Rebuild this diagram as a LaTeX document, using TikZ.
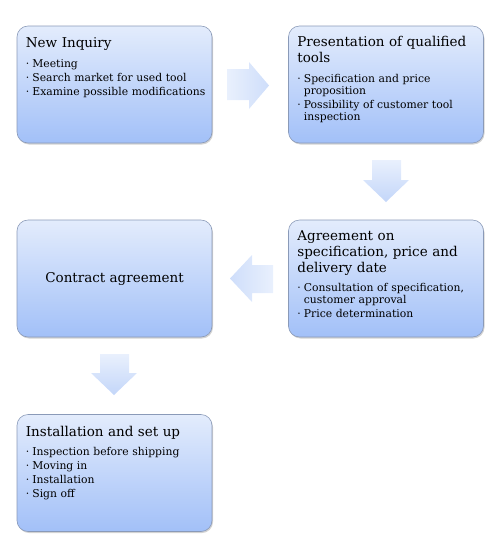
\documentclass[tikz,border=0pt]{standalone}
\usepackage{fontspec}
\setmainfont{DejaVu Serif}
\usetikzlibrary{shadows,shapes.arrows}
\definecolor{boxtop}{HTML}{E3ECFC}
\definecolor{boxbot}{HTML}{A2C0F8}
\definecolor{boxline}{HTML}{8A9AB8}
\definecolor{arrtop}{HTML}{E9F0FD}
\definecolor{arrbot}{HTML}{C3D6F9}
\tikzset{
  stepbox/.style={draw=boxline, line width=0.6pt, rounded corners=11pt,
    top color=boxtop, bottom color=boxbot,
    drop shadow={shadow xshift=1pt, shadow yshift=-1.5pt, opacity=0.35},
    minimum width=195pt, minimum height=117pt, inner sep=0pt},
  boxtitle/.style={anchor=north west, inner sep=0pt, align=left,
    font=\fontsize{13.5}{16}\selectfont, text width=182pt},
  boxlist/.style={anchor=north west, inner sep=0pt,
    font=\fontsize{10.8}{12}\selectfont, text width=182pt},
}
\newcommand{\itm}[1]{\par\noindent\makebox[6.5pt][l]{·}#1}
\newcommand{\itmc}[1]{\par\vspace{-2pt}\noindent\hspace*{6.5pt}#1}
\begin{document}
\begin{tikzpicture}[x=1pt,y=-1pt]
\useasboundingbox (0,0) rectangle (494,558);
% boxes
\node[stepbox] (b1) at (114.5,84.5) {};
\node[stepbox] (b2) at (386,84.5) {};
\node[stepbox] (b3) at (114.5,278.5) {};
\node[stepbox] (b4) at (386,278.5) {};
\node[stepbox] (b5) at (114.5,473) {};
% box 1
\node[boxtitle] (t1) at ([xshift=9pt,yshift=-10.5pt]b1.north west) {New Inquiry\strut};
\node[boxlist] (l1) at ([yshift=-0.5pt]t1.south west) {\setlength{\parskip}{2pt}\raggedright
  \itm{Meeting}\itm{Search market for used tool}\itm{Examine possible modifications}};
% box 2
\node[boxtitle] (t2) at ([xshift=9pt,yshift=-10.5pt]b2.north west) {Presentation of qualified\\tools\strut};
\node[boxlist] (l2) at ([yshift=-0.5pt]t2.south west) {\setlength{\parskip}{2pt}\raggedright
  \itm{Specification and price}\itmc{proposition}\itm{Possibility of customer tool}\itmc{inspection}};
% box 3
\node[font=\fontsize{13.5}{16}\selectfont] (t3) at (b3.center) {Contract agreement};
% box 4
\node[boxtitle] (t4) at ([xshift=9pt,yshift=-10.5pt]b4.north west) {Agreement on\\specification, price and\\delivery date\strut};
\node[boxlist] (l4) at ([yshift=-0.5pt]t4.south west) {\setlength{\parskip}{2pt}\raggedright
  \itm{Consultation of specification,}\itmc{customer approval}\itm{Price determination}};
% box 5
\node[boxtitle] (t5) at ([xshift=9pt,yshift=-10.5pt]b5.north west) {Installation and set up\strut};
\node[boxlist] (l5) at ([yshift=-0.5pt]t5.south west) {\setlength{\parskip}{2pt}\raggedright
  \itm{Inspection before shipping}\itm{Moving in}\itm{Installation}\itm{Sign off}};
% arrows
\path[left color=arrtop, right color=arrbot!70!arrtop]
  (227,69) coordinate (a1)
  -- (249,69) -- (249,62) -- (269,85.5) -- (249,109) -- (249,100) -- (227,100) -- cycle;
\path[top color=arrtop, bottom color=arrbot]
  (372,160) coordinate (a2) -- (401,160) -- (401,180) -- (409,180) -- (386,202) -- (363,180) -- (372,180) -- cycle;
\path[right color=arrtop, left color=arrbot!70!arrtop]
  (273,265) coordinate (a3) -- (252,265) -- (252,255) -- (230,278.5) -- (252,302) -- (252,293) -- (273,293) -- cycle;
\path[top color=arrtop, bottom color=arrbot]
  (100,354) coordinate (a4) -- (129,354) -- (129,373) -- (137,373) -- (114,395) -- (91,373) -- (100,373) -- cycle;
\end{tikzpicture}
\end{document}
